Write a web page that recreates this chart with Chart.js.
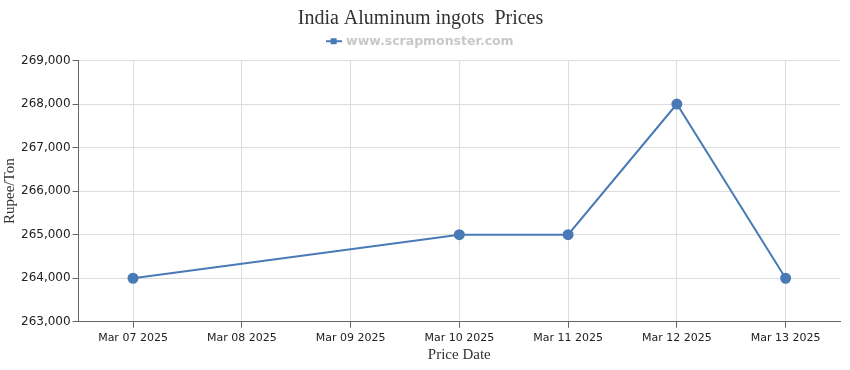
<!DOCTYPE html>
<html>
<head>
<meta charset="utf-8">
<script src="https://cdn.jsdelivr.net/npm/chart.js@4/dist/chart.umd.min.js"></script>
<style>
  html, body { margin: 0; padding: 0; background: #fff; }
  #wrap { width: 850px; height: 370px; }
</style>
</head>
<body>
<div id="wrap"><canvas id="priceChart"></canvas></div>
<script>
const dates = ["Mar 07 2025", "Mar 08 2025", "Mar 09 2025", "Mar 10 2025", "Mar 11 2025", "Mar 12 2025", "Mar 13 2025"];
const prices = [264000, null, null, 265000, 265000, 268000, 264000];
const yTicks = [263000, 264000, 265000, 266000, 267000, 268000, 269000];

const lineColor = "#4a7ab5";

// legend marker: line with small square
const marker = document.createElement("canvas");
marker.width = 16;
marker.height = 8;
const mctx = marker.getContext("2d");
mctx.strokeStyle = lineColor;
mctx.lineWidth = 2;
mctx.beginPath();
mctx.moveTo(0, 4);
mctx.lineTo(16, 4);
mctx.stroke();
mctx.fillStyle = lineColor;
mctx.fillRect(5, 1, 6, 6);

// a bit of extra room under the legend
const legendGap = {
  id: "legendGap",
  beforeInit(chart) {
    const fit = chart.legend.fit;
    chart.legend.fit = function () {
      fit.bind(chart.legend)();
      this.height += 3;
    };
  }
};

const ctx = document.getElementById("priceChart");
new Chart(ctx, {
  type: "line",
  data: {
    labels: dates,
    datasets: [{
      label: "www.scrapmonster.com",
      data: prices,
      borderColor: lineColor,
      backgroundColor: lineColor,
      borderWidth: 2,
      pointRadius: 4.5,
      pointHoverRadius: 5,
      spanGaps: true,
      tension: 0
    }]
  },
  plugins: [legendGap],
  options: {
    responsive: true,
    maintainAspectRatio: false,
    animation: false,
    layout: { padding: { left: 1, right: 10, top: 4, bottom: 6 } },
    plugins: {
      title: {
        display: true,
        text: "India Aluminum ingots  Prices",
        color: "#333",
        font: { family: "Liberation Serif", size: 20, weight: "normal" },
        padding: { top: 3, bottom: -2 }
      },
      legend: {
        display: true,
        labels: {
          usePointStyle: true,
          color: "#c8c8c8",
          font: { family: "DejaVu Sans", size: 12.5, weight: "bold" },
          boxHeight: 8,
          padding: 6,
          generateLabels: chart => [{
            text: chart.data.datasets[0].label,
            pointStyle: marker,
            fontColor: "#c8c8c8",
            datasetIndex: 0
          }]
        }
      },
      tooltip: { enabled: false }
    },
    scales: {
      x: {
        offset: true,
        grid: { offset: false, color: "#dddddd", tickColor: "#666", tickLength: 6 },
        border: { color: "#666" },
        ticks: {
          color: "#222",
          font: { family: "DejaVu Sans", size: 11 },
          maxRotation: 0,
          autoSkip: false,
          padding: 4
        },
        title: {
          display: true,
          text: "Price Date",
          color: "#333",
          font: { family: "Liberation Serif", size: 15 },
          padding: { top: -3, bottom: 0 }
        }
      },
      y: {
        min: yTicks[0],
        max: yTicks[yTicks.length - 1],
        afterBuildTicks: axis => { axis.ticks = yTicks.map(v => ({ value: v })); },
        grid: { color: "#dddddd", tickColor: "#666", tickLength: 6 },
        border: { color: "#666" },
        ticks: {
          color: "#222",
          font: { family: "DejaVu Sans", size: 12 },
          padding: 2,
          callback: v => v.toLocaleString("en-US")
        },
        title: {
          display: true,
          text: "Rupee/Ton",
          color: "#333",
          font: { family: "Liberation Serif", size: 15 },
          padding: { top: 0, bottom: 0 }
        }
      }
    }
  }
});
</script>
</body>
</html>
